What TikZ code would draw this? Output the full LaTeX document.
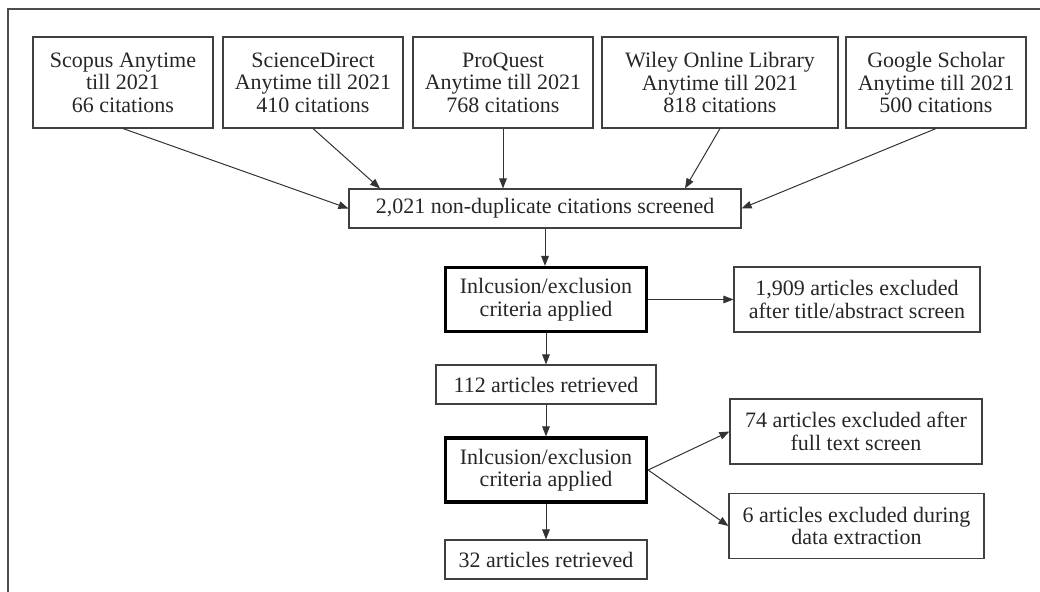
\documentclass[tikz,border=0pt]{standalone}
\usepackage{fontspec}
\setmainfont{Liberation Serif}
\usetikzlibrary{arrows.meta,positioning}
\tikzset{
    flow diagram/.style = {x=0.5pt, y=-0.5pt, >={Triangle[length=5pt, width=3.8pt]}},
    line/.style         = {draw=black!80, line width=0.5pt},
    block/.style        = {draw=black!75, line width=0.55pt, align=center,
                           text=black!85, inner sep=2pt,
                           font=\fontsize{11}{11.25}\selectfont,
                           minimum height=19.5pt},
    source/.style       = {block, minimum width=90pt, minimum height=45.5pt},
    criteria/.style     = {block, draw=black, line width=1.6pt,
                           minimum width=100.5pt, minimum height=32pt},
    excluded/.style     = {block, minimum height=32.5pt},
    frame/.style        = {draw=black!70, line width=0.75pt}
}
\def\sourcey{82.5}

\begin{document}
\begin{tikzpicture}[flow diagram]
\useasboundingbox (0,0) rectangle (1040,592);
\draw[frame] (8,592) -- (8,9) -- (1040,9);

% databases searched
\foreach \name/\xpos/\boxw/\txt in {
    scopus/123/90pt/{Scopus Anytime\\till 2021\\66 citations},
    sdirect/313/90pt/{ScienceDirect\\Anytime till 2021\\410 citations},
    proquest/503/90pt/{ProQuest\\Anytime till 2021\\768 citations},
    wiley/720/118pt/{Wiley Online Library\\Anytime till 2021\\818 citations},
    google/936/90pt/{Google Scholar\\Anytime till 2021\\500 citations}}
    \node[source,minimum width=\boxw] (\name) at (\xpos,\sourcey) {\txt};

\node[block,minimum width=196pt] (screen) at (545,208.5)
    {2,021 non-duplicate citations screened};
\draw[->,line] (scopus.south) -- (screen.west);
\draw[->,line] (sdirect.south) -- ([xshift=-82.5pt]screen.north);
\draw[->,line] (proquest.south) -- (proquest.south |- screen.north);
\draw[->,line] (wiley.south) -- ([xshift=70pt]screen.north);
\draw[->,line] (google.south) -- (screen.east);

% first screening
\node[criteria] (incl1) at (546,299.5) {Inlcusion/exclusion\\criteria applied};
\node[excluded,minimum width=123pt] (excl1) at (857,299.5)
    {1,909 articles excluded\\after title/abstract screen};
\node[block,minimum width=110pt] (ret1) at (546,384.5) {112 articles retrieved};
\draw[->,line] (screen.south) -- (screen.south |- incl1.north);
\draw[->,line] (incl1.east) -- (excl1.west);
\draw[->,line] (incl1.south) -- (ret1.north);

% second screening
\node[criteria] (incl2) at (546,470) {Inlcusion/exclusion\\criteria applied};
\node[excluded,minimum width=126pt] (excl2) at (856,431.5)
    {74 articles excluded after\\full text screen};
\node[excluded,minimum width=127.5pt] (excl3) at (856.5,526)
    {6 articles excluded during\\data extraction};
\node[block,minimum width=101pt] (ret2) at (546,559.5) {32 articles retrieved};
\draw[->,line] (ret1.south) -- (incl2.north);
\draw[->,line] (incl2.east) -- (excl2.west);
\draw[->,line] (incl2.east) -- (excl3.west);
\draw[->,line] (incl2.south) -- (ret2.north);
\end{tikzpicture}
\end{document}
